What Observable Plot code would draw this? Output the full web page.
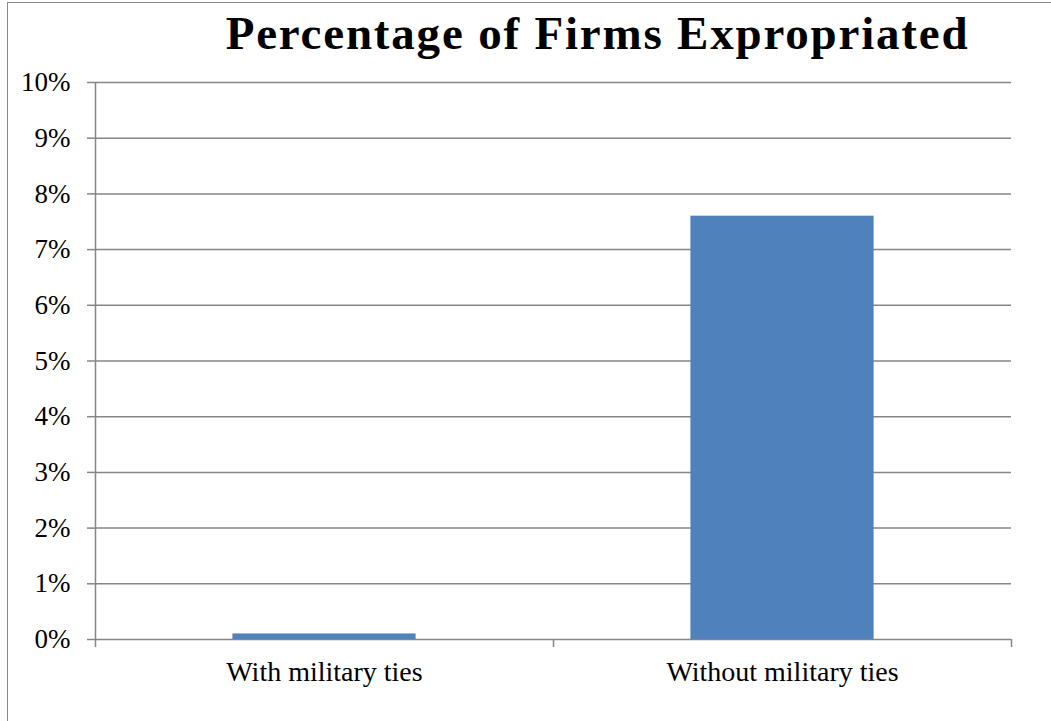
<!DOCTYPE html>
<html>
<head>
<meta charset="utf-8">
<script src="https://cdn.jsdelivr.net/npm/d3@7"></script>
<script src="https://cdn.jsdelivr.net/npm/@observablehq/plot@0.6"></script>
<style>
  html, body { margin: 0; padding: 0; background: #fff; overflow: hidden; }
  #wrap { position: relative; width: 1051px; height: 721px; overflow: hidden; }
  #border { position: absolute; left: 7px; top: 2px; width: 1100px; height: 800px; border: 1px solid #8a8a8a; box-sizing: border-box; }
  #title { position: absolute; left: 0; width: 1195px; top: 6px; text-align: center; font-family: "Liberation Serif", serif; font-weight: bold; font-size: 47px; letter-spacing: 1.8px; color: #000; white-space: nowrap; }
  #chart { position: absolute; left: 0; top: 0; }
</style>
</head>
<body>
<div id="wrap">
  <div id="border"></div>
  <div id="title">Percentage of Firms Expropriated</div>
  <div id="chart"></div>
</div>
<script>
const categories = ["With military ties", "Without military ties"];
const values = [0.1, 7.6];
const yTicks = [0, 1, 2, 3, 4, 5, 6, 7, 8, 9, 10];

const data = categories.map((c, i) => ({category: c, index: i, value: values[i]}));
const grid = "#868686";

const plot = Plot.plot({
  width: 1051,
  height: 721,
  marginLeft: 95,
  marginRight: 40,
  marginTop: 82,
  marginBottom: 82,
  style: {fontFamily: "'Liberation Serif', serif", fontSize: "27px", color: "#000", background: "transparent"},
  x: {type: "linear", domain: [0, categories.length]},
  y: {domain: [0, 10]},
  marks: [
    Plot.gridY(yTicks, {stroke: grid, strokeOpacity: 1, strokeWidth: 1.5}),
    Plot.axisY(yTicks, {tickSize: 8, tickPadding: 17, stroke: grid, strokeOpacity: 1, strokeWidth: 1.5, tickFormat: d => d + "%", fontSize: 27, label: null}),
    Plot.rectY(data, {x1: d => d.index + 0.3, x2: d => d.index + 0.7, y1: 0, y2: "value", fill: "#4F81BD"}),
    Plot.ruleX([0], {stroke: grid, strokeWidth: 1.5}),
    Plot.axisX(d3.range(categories.length + 1), {tickSize: 8, stroke: grid, strokeOpacity: 1, strokeWidth: 1.5, tickFormat: () => "", label: null}),
    Plot.axisX(categories.map((c, i) => i + 0.5), {tickSize: 0, tickPadding: 22, tickFormat: d => categories[Math.floor(d)], fontSize: 28, label: null})
  ]
});
document.getElementById("chart").appendChild(plot);
</script>
</body>
</html>
